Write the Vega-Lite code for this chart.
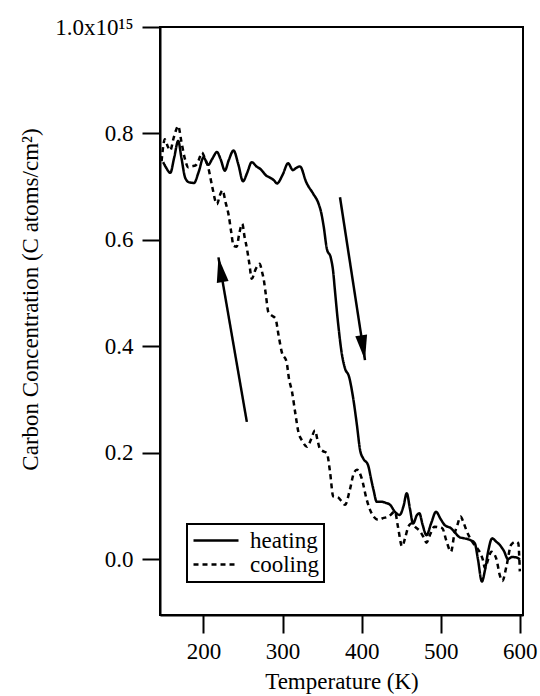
{
  "$schema": "https://vega.github.io/schema/vega-lite/v6.json",
  "width": 363,
  "height": 588,
  "autosize": {"type": "none"},
  "padding": {"left": 160, "top": 27, "right": 17, "bottom": 81},
  "background": "white",
  "config": {
    "view": {"stroke": "black", "strokeWidth": 2},
    "font": "Liberation Serif",
    "axis": {
      "domainColor": "black", "domainWidth": 2,
      "tickColor": "black", "tickWidth": 2, "tickSize": 18,
      "labelFont": "Liberation Serif", "labelFontSize": 23, "labelColor": "black",
      "titleFont": "Liberation Serif", "titleFontSize": 23, "titleFontWeight": "normal", "titleColor": "black",
      "grid": false, "labelFlush": false
    },
    "legend": {"strokeWidth": 2}
  },
  "datasets": {
    "curves": [
      {"series": "heating", "T": 149, "v": 0.746},
      {"series": "heating", "T": 153, "v": 0.735},
      {"series": "heating", "T": 158, "v": 0.726},
      {"series": "heating", "T": 163, "v": 0.755},
      {"series": "heating", "T": 168, "v": 0.786},
      {"series": "heating", "T": 172, "v": 0.755},
      {"series": "heating", "T": 177, "v": 0.716},
      {"series": "heating", "T": 182, "v": 0.708},
      {"series": "heating", "T": 188, "v": 0.707},
      {"series": "heating", "T": 194, "v": 0.728},
      {"series": "heating", "T": 200, "v": 0.755},
      {"series": "heating", "T": 206, "v": 0.741},
      {"series": "heating", "T": 211, "v": 0.752},
      {"series": "heating", "T": 217, "v": 0.765},
      {"series": "heating", "T": 222, "v": 0.750},
      {"series": "heating", "T": 227, "v": 0.730},
      {"series": "heating", "T": 232, "v": 0.750},
      {"series": "heating", "T": 238, "v": 0.768},
      {"series": "heating", "T": 244, "v": 0.742},
      {"series": "heating", "T": 250, "v": 0.710},
      {"series": "heating", "T": 255, "v": 0.725},
      {"series": "heating", "T": 261, "v": 0.746},
      {"series": "heating", "T": 267, "v": 0.738},
      {"series": "heating", "T": 272, "v": 0.733},
      {"series": "heating", "T": 280, "v": 0.720},
      {"series": "heating", "T": 284, "v": 0.717},
      {"series": "heating", "T": 289, "v": 0.712},
      {"series": "heating", "T": 293, "v": 0.706},
      {"series": "heating", "T": 300, "v": 0.722},
      {"series": "heating", "T": 307, "v": 0.744},
      {"series": "heating", "T": 313, "v": 0.731},
      {"series": "heating", "T": 317, "v": 0.735},
      {"series": "heating", "T": 322, "v": 0.738},
      {"series": "heating", "T": 330, "v": 0.708},
      {"series": "heating", "T": 339, "v": 0.686},
      {"series": "heating", "T": 345, "v": 0.670},
      {"series": "heating", "T": 349, "v": 0.650},
      {"series": "heating", "T": 352, "v": 0.625},
      {"series": "heating", "T": 356, "v": 0.583},
      {"series": "heating", "T": 361, "v": 0.566},
      {"series": "heating", "T": 364, "v": 0.540},
      {"series": "heating", "T": 366, "v": 0.508},
      {"series": "heating", "T": 370, "v": 0.446},
      {"series": "heating", "T": 375, "v": 0.385},
      {"series": "heating", "T": 379, "v": 0.358},
      {"series": "heating", "T": 384, "v": 0.343},
      {"series": "heating", "T": 389, "v": 0.305},
      {"series": "heating", "T": 394, "v": 0.252},
      {"series": "heating", "T": 398, "v": 0.205},
      {"series": "heating", "T": 402, "v": 0.189},
      {"series": "heating", "T": 408, "v": 0.177},
      {"series": "heating", "T": 412, "v": 0.150},
      {"series": "heating", "T": 415, "v": 0.130},
      {"series": "heating", "T": 419, "v": 0.108},
      {"series": "heating", "T": 425, "v": 0.108},
      {"series": "heating", "T": 430, "v": 0.106},
      {"series": "heating", "T": 436, "v": 0.102},
      {"series": "heating", "T": 442, "v": 0.089},
      {"series": "heating", "T": 448, "v": 0.083},
      {"series": "heating", "T": 453, "v": 0.100},
      {"series": "heating", "T": 457, "v": 0.124},
      {"series": "heating", "T": 461, "v": 0.095},
      {"series": "heating", "T": 465, "v": 0.067},
      {"series": "heating", "T": 470, "v": 0.083},
      {"series": "heating", "T": 473, "v": 0.086},
      {"series": "heating", "T": 477, "v": 0.065},
      {"series": "heating", "T": 482, "v": 0.045},
      {"series": "heating", "T": 488, "v": 0.068},
      {"series": "heating", "T": 494, "v": 0.089},
      {"series": "heating", "T": 500, "v": 0.075},
      {"series": "heating", "T": 505, "v": 0.064},
      {"series": "heating", "T": 513, "v": 0.058},
      {"series": "heating", "T": 518, "v": 0.050},
      {"series": "heating", "T": 524, "v": 0.041},
      {"series": "heating", "T": 530, "v": 0.039},
      {"series": "heating", "T": 537, "v": 0.036},
      {"series": "heating", "T": 543, "v": 0.030},
      {"series": "heating", "T": 547, "v": 0.000},
      {"series": "heating", "T": 552, "v": -0.042},
      {"series": "heating", "T": 556, "v": -0.020},
      {"series": "heating", "T": 560, "v": 0.015},
      {"series": "heating", "T": 565, "v": 0.039},
      {"series": "heating", "T": 570, "v": 0.033},
      {"series": "heating", "T": 575, "v": 0.026},
      {"series": "heating", "T": 580, "v": 0.015},
      {"series": "heating", "T": 585, "v": 0.000},
      {"series": "heating", "T": 590, "v": 0.004},
      {"series": "heating", "T": 596, "v": 0.003},
      {"series": "heating", "T": 600, "v": -0.001},
      {"series": "cooling", "T": 147, "v": 0.748},
      {"series": "cooling", "T": 149, "v": 0.775},
      {"series": "cooling", "T": 151, "v": 0.789},
      {"series": "cooling", "T": 155, "v": 0.775},
      {"series": "cooling", "T": 158, "v": 0.768},
      {"series": "cooling", "T": 162, "v": 0.790},
      {"series": "cooling", "T": 165, "v": 0.805},
      {"series": "cooling", "T": 168, "v": 0.814},
      {"series": "cooling", "T": 172, "v": 0.785},
      {"series": "cooling", "T": 176, "v": 0.755},
      {"series": "cooling", "T": 181, "v": 0.736},
      {"series": "cooling", "T": 185, "v": 0.738},
      {"series": "cooling", "T": 190, "v": 0.740},
      {"series": "cooling", "T": 194, "v": 0.750},
      {"series": "cooling", "T": 198, "v": 0.764},
      {"series": "cooling", "T": 202, "v": 0.752},
      {"series": "cooling", "T": 206, "v": 0.736},
      {"series": "cooling", "T": 211, "v": 0.700},
      {"series": "cooling", "T": 217, "v": 0.667},
      {"series": "cooling", "T": 221, "v": 0.685},
      {"series": "cooling", "T": 224, "v": 0.693},
      {"series": "cooling", "T": 228, "v": 0.670},
      {"series": "cooling", "T": 232, "v": 0.645},
      {"series": "cooling", "T": 235, "v": 0.615},
      {"series": "cooling", "T": 238, "v": 0.589},
      {"series": "cooling", "T": 242, "v": 0.587},
      {"series": "cooling", "T": 245, "v": 0.610},
      {"series": "cooling", "T": 249, "v": 0.630},
      {"series": "cooling", "T": 252, "v": 0.605},
      {"series": "cooling", "T": 255, "v": 0.583},
      {"series": "cooling", "T": 258, "v": 0.555},
      {"series": "cooling", "T": 261, "v": 0.527},
      {"series": "cooling", "T": 266, "v": 0.545},
      {"series": "cooling", "T": 271, "v": 0.555},
      {"series": "cooling", "T": 274, "v": 0.540},
      {"series": "cooling", "T": 276, "v": 0.527},
      {"series": "cooling", "T": 279, "v": 0.495},
      {"series": "cooling", "T": 282, "v": 0.464},
      {"series": "cooling", "T": 286, "v": 0.458},
      {"series": "cooling", "T": 291, "v": 0.452},
      {"series": "cooling", "T": 295, "v": 0.420},
      {"series": "cooling", "T": 299, "v": 0.389},
      {"series": "cooling", "T": 305, "v": 0.371},
      {"series": "cooling", "T": 308, "v": 0.340},
      {"series": "cooling", "T": 312, "v": 0.314},
      {"series": "cooling", "T": 316, "v": 0.275},
      {"series": "cooling", "T": 320, "v": 0.239},
      {"series": "cooling", "T": 325, "v": 0.222},
      {"series": "cooling", "T": 331, "v": 0.211},
      {"series": "cooling", "T": 336, "v": 0.225},
      {"series": "cooling", "T": 341, "v": 0.242},
      {"series": "cooling", "T": 344, "v": 0.225},
      {"series": "cooling", "T": 347, "v": 0.208},
      {"series": "cooling", "T": 351, "v": 0.203},
      {"series": "cooling", "T": 356, "v": 0.199},
      {"series": "cooling", "T": 360, "v": 0.164},
      {"series": "cooling", "T": 364, "v": 0.118},
      {"series": "cooling", "T": 370, "v": 0.116},
      {"series": "cooling", "T": 374, "v": 0.110},
      {"series": "cooling", "T": 379, "v": 0.102},
      {"series": "cooling", "T": 385, "v": 0.130},
      {"series": "cooling", "T": 390, "v": 0.161},
      {"series": "cooling", "T": 394, "v": 0.168},
      {"series": "cooling", "T": 400, "v": 0.152},
      {"series": "cooling", "T": 406, "v": 0.114},
      {"series": "cooling", "T": 410, "v": 0.095},
      {"series": "cooling", "T": 415, "v": 0.080},
      {"series": "cooling", "T": 421, "v": 0.074},
      {"series": "cooling", "T": 427, "v": 0.077},
      {"series": "cooling", "T": 434, "v": 0.080},
      {"series": "cooling", "T": 442, "v": 0.089},
      {"series": "cooling", "T": 446, "v": 0.060},
      {"series": "cooling", "T": 451, "v": 0.024},
      {"series": "cooling", "T": 455, "v": 0.040},
      {"series": "cooling", "T": 459, "v": 0.061},
      {"series": "cooling", "T": 463, "v": 0.067},
      {"series": "cooling", "T": 468, "v": 0.060},
      {"series": "cooling", "T": 474, "v": 0.052},
      {"series": "cooling", "T": 478, "v": 0.042},
      {"series": "cooling", "T": 482, "v": 0.031},
      {"series": "cooling", "T": 487, "v": 0.048},
      {"series": "cooling", "T": 492, "v": 0.061},
      {"series": "cooling", "T": 497, "v": 0.060},
      {"series": "cooling", "T": 502, "v": 0.058},
      {"series": "cooling", "T": 507, "v": 0.035},
      {"series": "cooling", "T": 513, "v": 0.014},
      {"series": "cooling", "T": 517, "v": 0.045},
      {"series": "cooling", "T": 521, "v": 0.064},
      {"series": "cooling", "T": 525, "v": 0.080},
      {"series": "cooling", "T": 529, "v": 0.068},
      {"series": "cooling", "T": 533, "v": 0.052},
      {"series": "cooling", "T": 541, "v": 0.030},
      {"series": "cooling", "T": 549, "v": 0.014},
      {"series": "cooling", "T": 553, "v": 0.000},
      {"series": "cooling", "T": 556, "v": -0.017},
      {"series": "cooling", "T": 560, "v": 0.000},
      {"series": "cooling", "T": 564, "v": 0.014},
      {"series": "cooling", "T": 570, "v": 0.002},
      {"series": "cooling", "T": 575, "v": -0.032},
      {"series": "cooling", "T": 578, "v": -0.041},
      {"series": "cooling", "T": 583, "v": -0.014},
      {"series": "cooling", "T": 589, "v": 0.027},
      {"series": "cooling", "T": 595, "v": 0.033},
      {"series": "cooling", "T": 598, "v": 0.030},
      {"series": "cooling", "T": 600, "v": -0.023}
    ],
    "arrows": [
      {"dir": "down", "T": 404.2, "v": 0.374, "T2": 372.6, "v2": 0.680},
      {"dir": "up", "T": 218.9, "v": 0.567, "T2": 254.8, "v2": 0.258}
    ]
  },
  "encoding": {
    "x": {
      "field": "T", "type": "quantitative",
      "scale": {"domain": [145, 604], "nice": false, "zero": false},
      "axis": {"values": [200, 300, 400, 500, 600], "title": "Temperature (K)", "labelPadding": 7, "titleBaseline": "alphabetic", "titleY": 73}
    },
    "y": {
      "field": "v", "type": "quantitative",
      "scale": {"domain": [-0.105, 1.0], "nice": false, "zero": false},
      "axis": {
        "values": [0, 0.2, 0.4, 0.6, 0.8, 1.0],
        "labelExpr": "datum.value == 1 ? '1.0x10¹⁵' : format(datum.value, '.1f')",
        "title": "Carbon Concentration (C atoms/cm²)",
        "labelPadding": 9,
        "titleX": -123, "titleY": 272, "titleAlign": "center", "titleBaseline": "alphabetic", "titleAngle": 270
      }
    }
  },
  "layer": [
    {
      "data": {"name": "curves"},
      "mark": {"type": "line", "color": "black", "strokeWidth": 2.5, "interpolate": "monotone"},
      "encoding": {
        "strokeDash": {
          "field": "series", "type": "nominal",
          "scale": {"domain": ["heating", "cooling"], "range": [[1, 0], [5, 4]]},
          "legend": {
            "title": null, "orient": "none", "legendX": 27, "legendY": 497,
            "symbolType": "M-1,0L3.5,0", "symbolSize": 400, "symbolStrokeWidth": 2.5, "symbolStrokeColor": "black",
            "labelFont": "Liberation Serif", "labelFontSize": 23, "labelColor": "black", "labelOffset": 35,
            "padding": 5, "rowPadding": 0, "strokeColor": "black"
          }
        }
      }
    },
    {
      "data": {"name": "arrows"},
      "mark": {"type": "rule", "color": "black", "strokeWidth": 2.5},
      "encoding": {
        "x2": {"field": "T2"},
        "y2": {"field": "v2"}
      }
    },
    {
      "data": {"name": "arrows"},
      "transform": [{"filter": "datum.dir == 'down'"}],
      "mark": {"type": "point", "shape": "M0,0L0.084,-1.024L-0.388,-0.952Z", "size": 2500, "filled": true, "color": "black", "opacity": 1, "strokeWidth": 0},
      "encoding": {}
    },
    {
      "data": {"name": "arrows"},
      "transform": [{"filter": "datum.dir == 'up'"}],
      "mark": {"type": "point", "shape": "M0,0L0.406,0.946L-0.066,1.026Z", "size": 2500, "filled": true, "color": "black", "opacity": 1, "strokeWidth": 0},
      "encoding": {}
    }
  ]
}
